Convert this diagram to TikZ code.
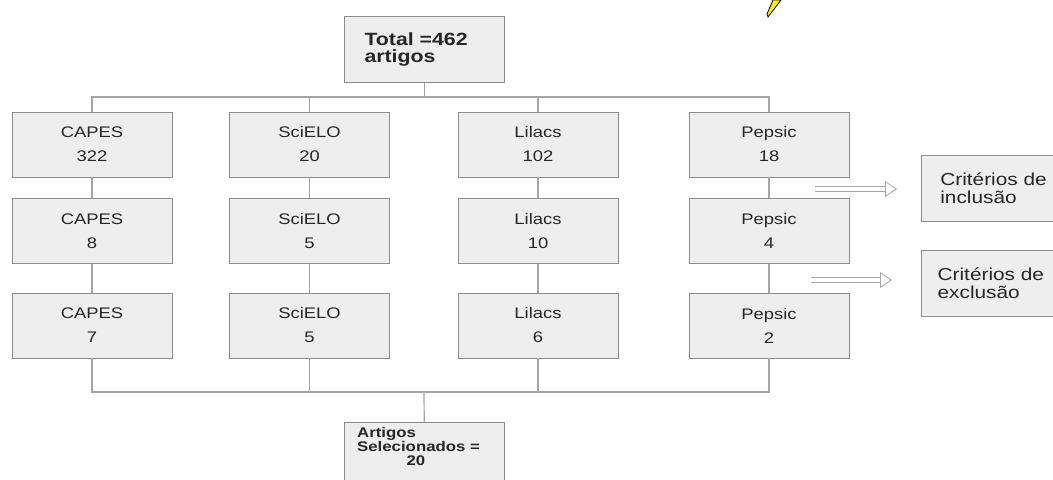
\documentclass[tikz,border=0pt]{standalone}
\usepackage{fontspec}
\setmainfont{Liberation Sans}[FakeStretch=1.2]
\usetikzlibrary{arrows.meta,positioning}
\definecolor{boxfill}{RGB}{238,238,238}
\definecolor{boxline}{RGB}{140,140,140}
\definecolor{linkgray}{RGB}{165,165,165}
\tikzset{
    caixa/.style={
           rectangle,
           draw=boxline, fill=boxfill,
           line width=0.6pt,
           minimum width=120pt,
           minimum height=48.75pt,
           inner sep=2pt,
           align=center,
           text=black!85,
           font=\fontsize{11.5pt}{18pt}\selectfont},
    nota/.style={
           caixa,
           align=left,
           text width=91pt,
           minimum width=119pt,
           minimum height=49.5pt,
           font=\fontsize{13pt}{13.5pt}\selectfont},
    liga/.style={
           draw=linkgray,
           line width=0.9pt},
    seta/.style={
           draw=linkgray,
           line width=0.6pt,
           double=white,
           double distance=3pt,
           -{Triangle[length=9pt, width=12pt, line width=0.6pt, fill=white]}}
}

\begin{document}
\begin{tikzpicture}[x=0.75pt,y=-0.75pt]
          \useasboundingbox (0,0) rectangle (1053,479);
          \clip (0,0) rectangle (1053,479);
          \def \rowa {144.5}
          \def \rowb {231}
          \def \rowc {325.5}
          \def \capx {92}
          \def \scix {309.5}
          \def \lilx {538}
          \def \pepx {769}
          \node[caixa, align=left, text width=90pt, minimum height=49.5pt,
                font=\bfseries\fontsize{13.3pt}{12.5pt}\selectfont](total) at (424.5,49.5) {Total =462\\artigos};
          \coordinate (tophub) at (424.5,97);
          \coordinate (bothub) at (424,392);
          % bases
          \node[caixa](capesA) at (\capx,\rowa) {CAPES\\322};
          \node[caixa](scieloA) at (\scix,\rowa) {SciELO\\20};
          \node[caixa](lilacsA) at (\lilx,\rowa) {Lilacs\\102};
          \node[caixa](pepsicA) at (\pepx,\rowa) {Pepsic\\18};
          \node[caixa](capesB) at (\capx,\rowb) {CAPES\\8};
          \node[caixa](scieloB) at (\scix,\rowb) {SciELO\\5};
          \node[caixa](lilacsB) at (\lilx,\rowb) {Lilacs\\10};
          \node[caixa](pepsicB) at (\pepx,\rowb) {Pepsic\\4};
          \node[caixa](capesC) at (\capx,\rowc) {CAPES\\7};
          \node[caixa](scieloC) at (\scix,\rowc) {SciELO\\5};
          \node[caixa](lilacsC) at (\lilx,\rowc) {Lilacs\\6};
          \node[caixa](pepsicC) at (\pepx,\rowc) {Pepsic\\2};
          % criterios
          \node[nota](incl) at (1001,188) {Critérios de\\inclusão};
          \node[nota, text width=95pt](excl) at (1001,283.5) {Critérios de\\exclusão};
          \node[caixa, anchor=north, align=left, text width=101pt, inner ysep=4pt, text depth=36pt,
                font=\bfseries\fontsize{10.5pt}{10.5pt}\selectfont](selec) at (424.5,422) {Artigos\\Selecionados =\\\hspace*{37pt}20};
          \coordinate (inA) at (815,189);
          \coordinate (inB) at (897,189);
          \coordinate (exA) at (811,280);
          \coordinate (exB) at (892,280);
          % ligacoes
          \draw[liga] (total) -- (tophub);
          \draw[liga] (tophub) -| (capesA.north);
          \draw[liga] (tophub) -| (scieloA.north);
          \draw[liga] (tophub) -| (lilacsA.north);
          \draw[liga] (tophub) -| (pepsicA.north);
          \draw[liga] (capesA) -- (capesB);
          \draw[liga] (capesB) -- (capesC);
          \draw[liga] (scieloA) -- (scieloB);
          \draw[liga] (scieloB) -- (scieloC);
          \draw[liga] (lilacsA) -- (lilacsB);
          \draw[liga] (lilacsB) -- (lilacsC);
          \draw[liga] (pepsicA) -- (pepsicB);
          \draw[liga] (pepsicB) -- (pepsicC);
          \draw[liga] (capesC.south) |- (bothub);
          \draw[liga] (scieloC.south) |- (bothub);
          \draw[liga] (lilacsC.south) |- (bothub);
          \draw[liga] (pepsicC.south) |- (bothub);
          \draw[liga] (bothub) -- (selec);
          \draw[seta] (inA) -- (inB);
          \draw[seta] (exA) -- (exB);
          % lapis
          \filldraw[fill=yellow, draw=black, line width=0.6pt] (773,0) -- (781,0) -- (768,17) -- (767,14) -- cycle;
         \end{tikzpicture}
\end{document}
